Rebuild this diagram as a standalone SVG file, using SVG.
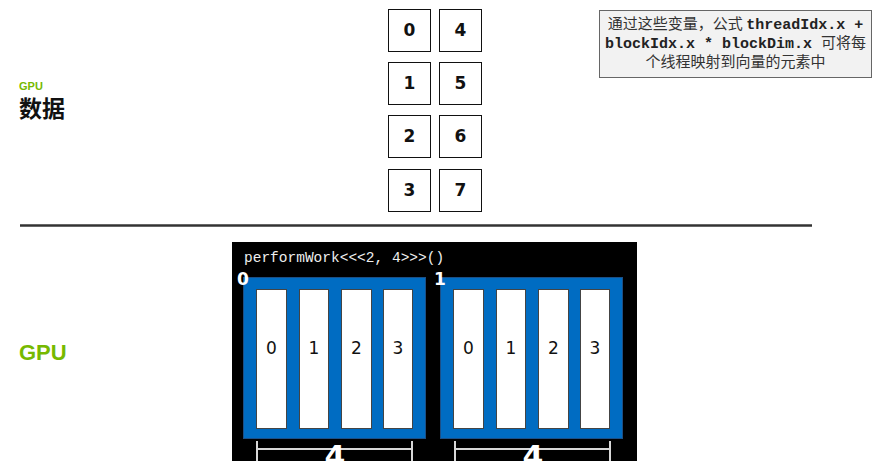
<svg xmlns="http://www.w3.org/2000/svg" width="883" height="461" viewBox="0 0 883 461">
<style>
.cell{fill:#fff;stroke:#111;stroke-width:1}
.num{font-family:"DejaVu Sans",sans-serif;font-weight:bold;font-size:17px;fill:#111;text-anchor:middle}
.blk{fill:#006cc2;stroke:#1c4f86;stroke-width:1}
.col{fill:#fff;stroke:#444;stroke-width:1}
.cnum{font-family:"DejaVu Sans",sans-serif;font-size:17px;fill:#111;text-anchor:middle}
.blab{font-family:"DejaVu Sans",sans-serif;font-weight:bold;font-size:17px;fill:#fff}
.br{stroke:#d8d8d8;stroke-width:2;fill:none}
.four{font-family:"DejaVu Sans",sans-serif;font-weight:bold;font-size:30px;fill:#fff;text-anchor:middle}
.cn{font-family:"Noto Sans CJK SC",sans-serif;font-size:15px;fill:#333}
.mono{font-family:"Liberation Mono",monospace;font-weight:bold;font-size:15px;fill:#222}
</style>
<rect width="883" height="461" fill="#fff"/>
<g id="label-data">
<text x="19" y="90" font-family="Liberation Sans,sans-serif" font-weight="bold" font-size="11" fill="#76b900">GPU</text>
<text x="19" y="117" font-family="Noto Sans CJK SC,sans-serif" font-weight="bold" font-size="23" fill="#111">数据</text>
</g>
<g id="label-gpu">
<text x="19" y="360" font-family="Liberation Sans,sans-serif" font-weight="bold" font-size="22" fill="#76b900">GPU</text>
</g>
<g id="data">
<rect class="cell" x="388.5" y="9.5" width="42" height="42"/><text class="num" x="409.5" y="36">0</text>
<rect class="cell" x="439.5" y="9.5" width="42" height="42"/><text class="num" x="460.5" y="36">4</text>
<rect class="cell" x="388.5" y="62.5" width="42" height="42"/><text class="num" x="409.5" y="89">1</text>
<rect class="cell" x="439.5" y="62.5" width="42" height="42"/><text class="num" x="460.5" y="89">5</text>
<rect class="cell" x="388.5" y="115.5" width="42" height="42"/><text class="num" x="409.5" y="142">2</text>
<rect class="cell" x="439.5" y="115.5" width="42" height="42"/><text class="num" x="460.5" y="142">6</text>
<rect class="cell" x="388.5" y="169.5" width="42" height="42"/><text class="num" x="409.5" y="196">3</text>
<rect class="cell" x="439.5" y="169.5" width="42" height="42"/><text class="num" x="460.5" y="196">7</text>
</g>
<g id="note">
<rect x="599.5" y="10.5" width="272" height="67" fill="#f2f2f2" stroke="#666"/>
<text x="735.5" y="29" text-anchor="middle"><tspan class="cn">通过这些变量，公式 </tspan><tspan class="mono">threadIdx.x +</tspan></text>
<text x="735.5" y="48" text-anchor="middle"><tspan class="mono">blockIdx.x * blockDim.x </tspan><tspan class="cn">可将每</tspan></text>
<text x="735.5" y="67" text-anchor="middle" class="cn">个线程映射到向量的元素中</text>
</g>
<g id="divider">
<line x1="20" y1="225.5" x2="812" y2="225.5" stroke="#333" stroke-width="2.5"/>
</g>
<g id="gpu">
<rect x="232" y="242" width="405" height="219" fill="#000"/>
<text x="244" y="262" font-family="Liberation Mono,monospace" font-size="14.5" fill="#eee">performWork&lt;&lt;&lt;2, 4&gt;&gt;&gt;()</text>
<g id="block0">
<rect class="blk" x="243.5" y="277.5" width="182" height="161"/>
<rect class="col" x="256.5" y="289.5" width="30" height="139"/><text class="cnum" x="271.5" y="354">0</text>
<rect class="col" x="299.5" y="289.5" width="29" height="139"/><text class="cnum" x="314" y="354">1</text>
<rect class="col" x="341.5" y="289.5" width="30" height="139"/><text class="cnum" x="356.5" y="354">2</text>
<rect class="col" x="383.5" y="289.5" width="29" height="139"/><text class="cnum" x="398" y="354">3</text>
<text class="blab" x="237" y="285">0</text>
</g>
<g id="block1">
<rect class="blk" x="440.5" y="277.5" width="182" height="161"/>
<rect class="col" x="453.5" y="289.5" width="30" height="139"/><text class="cnum" x="468.5" y="354">0</text>
<rect class="col" x="496.5" y="289.5" width="29" height="139"/><text class="cnum" x="511" y="354">1</text>
<rect class="col" x="538.5" y="289.5" width="30" height="139"/><text class="cnum" x="553.5" y="354">2</text>
<rect class="col" x="580.5" y="289.5" width="29" height="139"/><text class="cnum" x="595" y="354">3</text>
<text class="blab" x="434" y="285">1</text>
</g>
<g id="brackets">
<path class="br" d="M257 441V461M257 449H412M412 441V461"/>
<text class="four" x="335" y="467">4</text>
<path class="br" d="M455 441V461M455 449H610M610 441V461"/>
<text class="four" x="533" y="467">4</text>
</g>
</g>
</svg>
